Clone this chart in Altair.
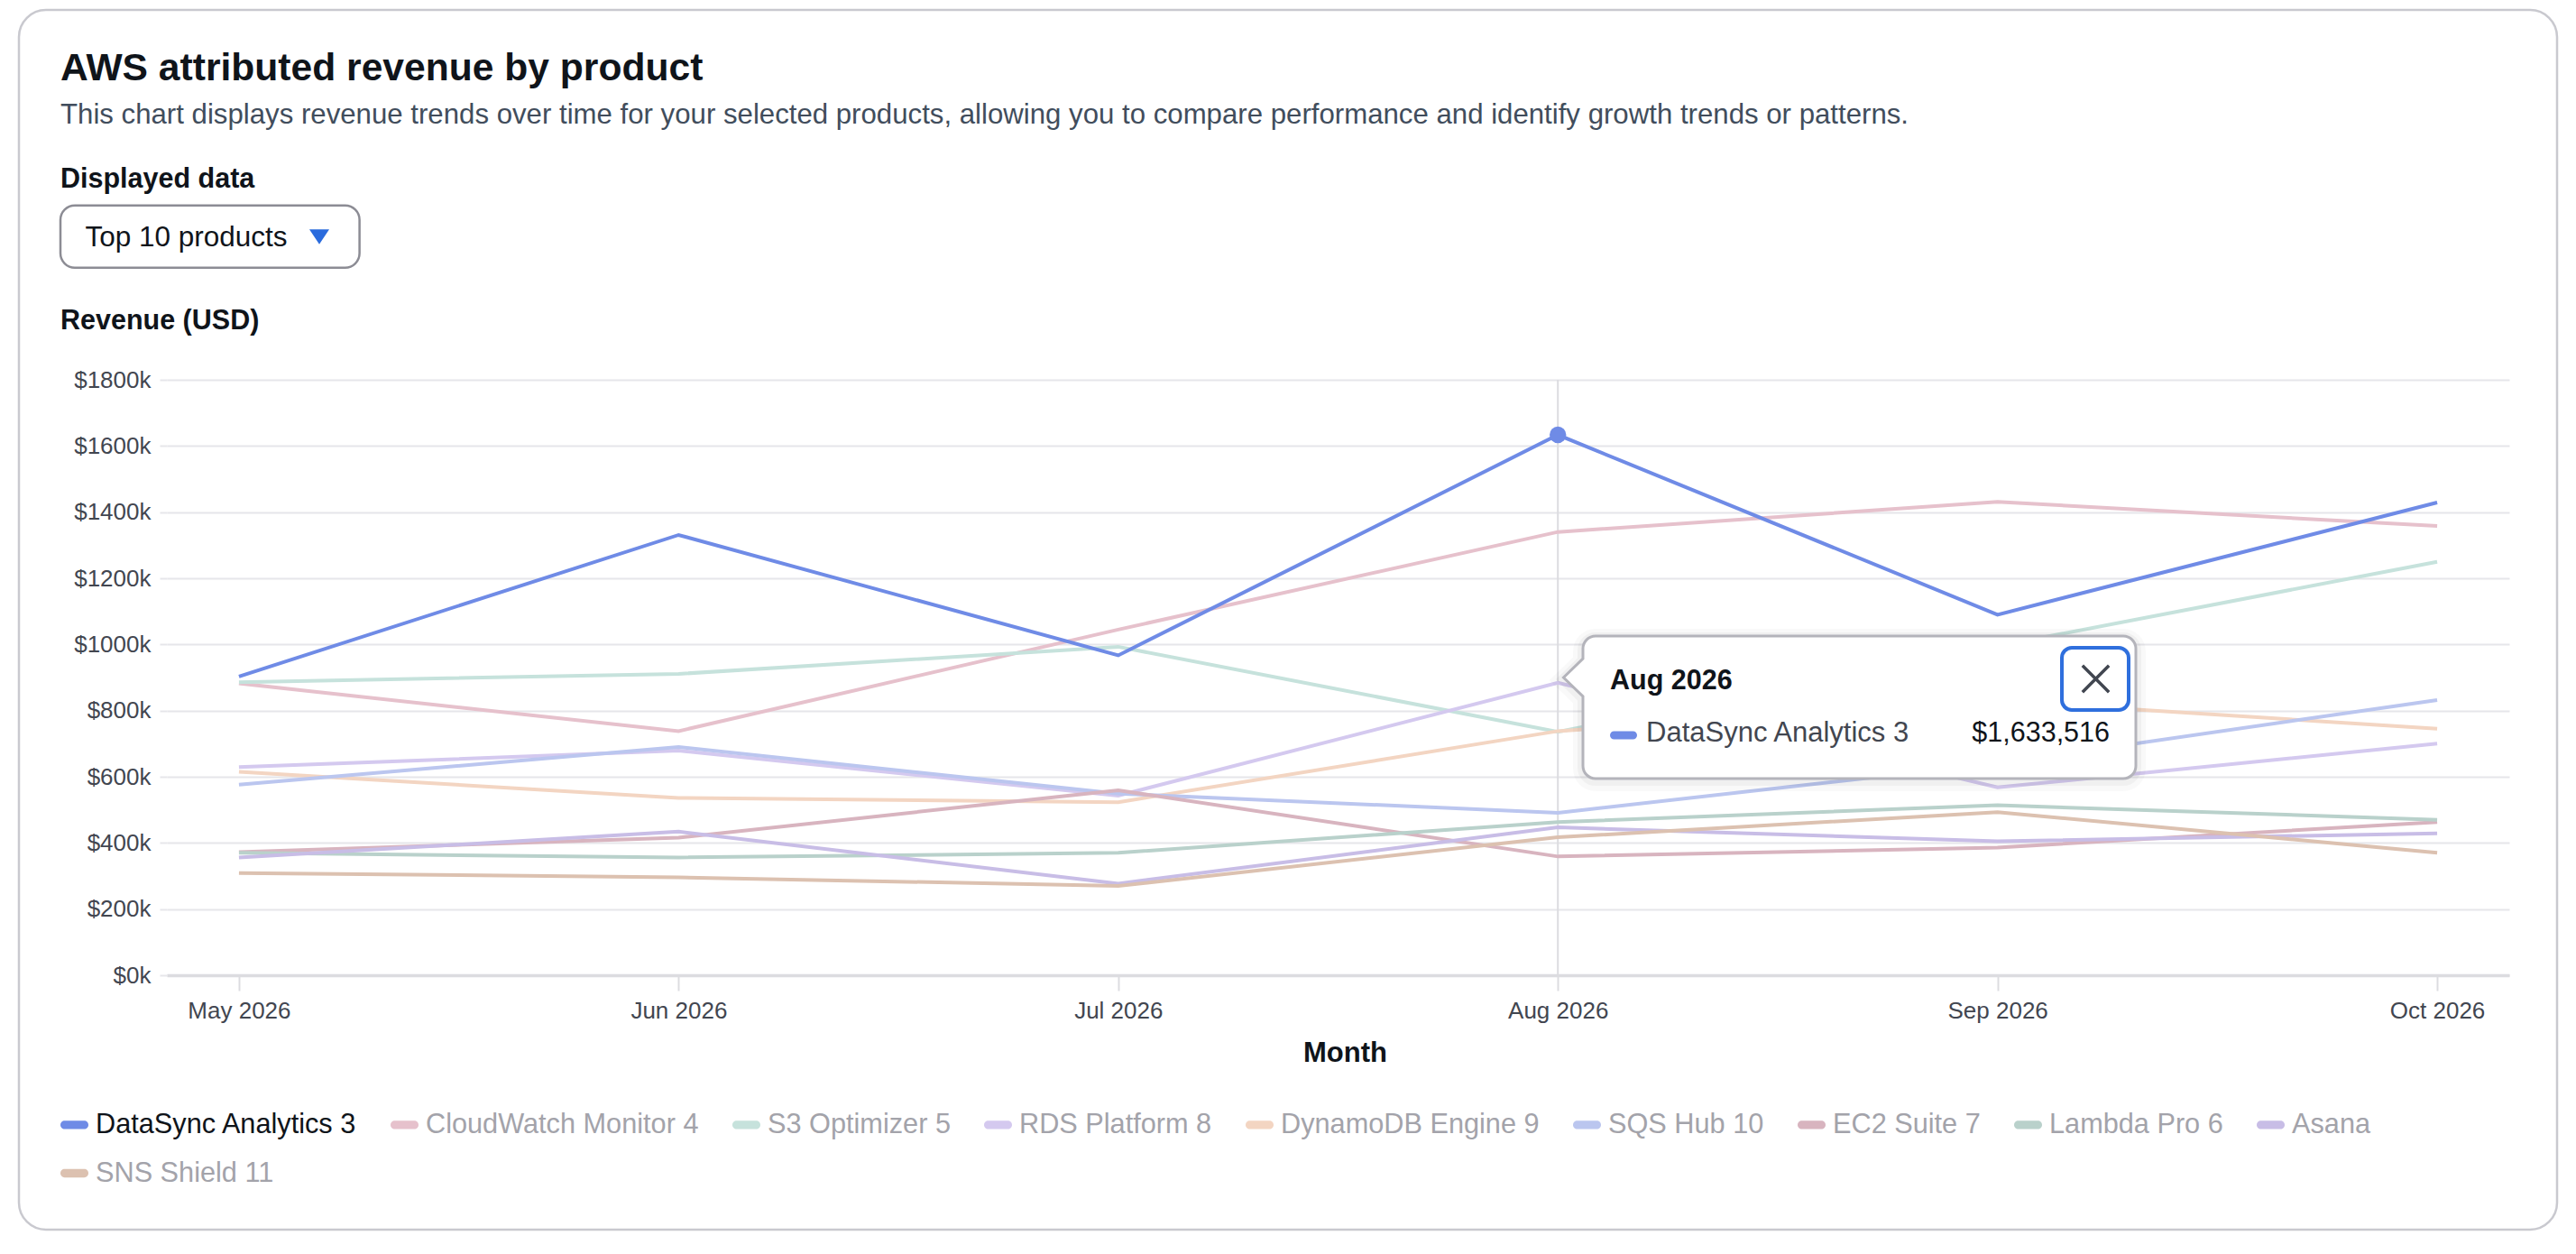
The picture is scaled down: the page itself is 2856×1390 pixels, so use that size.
import altair as alt
import pandas as pd

# ---------------- data ----------------
months = ["May 2026", "Jun 2026", "Jul 2026", "Aug 2026", "Sep 2026", "Oct 2026"]
products = [
    "DataSync Analytics 3", "CloudWatch Monitor 4", "S3 Optimizer 5", "RDS Platform 8",
    "DynamoDB Engine 9", "SQS Hub 10", "EC2 Suite 7", "Lambda Pro 6", "Asana", "SNS Shield 11",
]
colors = [
    "#6f8be6", "#e6c1cc", "#c6e2dc", "#d4c9ef", "#f3d5c2",
    "#bbc6ef", "#d8b4bf", "#b9d1cb", "#c8bde6", "#dcc1b0",
]
datasync_analytics_3 = [903000, 1331000, 967000, 1633516, 1090000, 1429000]
cloudwatch_monitor_4 = [882000, 738000, 1045000, 1340000, 1431000, 1358000]
s3_optimizer_5 = [886000, 911000, 993000, 736000, 995000, 1250000]
rds_platform_8 = [629000, 679000, 543000, 884000, 568000, 700000]
dynamodb_engine_9 = [615000, 536000, 523000, 738000, 830000, 745000]
sqs_hub_10 = [576000, 690000, 549000, 491000, 640000, 832000]
ec2_suite_7 = [372000, 416000, 559000, 359000, 386000, 463000]
lambda_pro_6 = [370000, 356000, 370000, 463000, 514000, 470000]
asana = [356000, 434000, 277000, 447000, 405000, 429000]
sns_shield_11 = [309000, 296000, 270000, 417000, 493000, 370000]
series_values = [
    datasync_analytics_3, cloudwatch_monitor_4, s3_optimizer_5, rds_platform_8,
    dynamodb_engine_9, sqs_hub_10, ec2_suite_7, lambda_pro_6, asana, sns_shield_11,
]
y_ticks = [0, 200000, 400000, 600000, 800000, 1000000, 1200000, 1400000, 1600000, 1800000]

selected_product = products[0]
selected_month = "Aug 2026"

title_text = "AWS attributed revenue by product"
subtitle_text = ("This chart displays revenue trends over time for your selected products, "
                 "allowing you to compare performance and identify growth trends or patterns.")
filter_label = "Displayed data"
filter_value = "Top 10 products"
y_title = "Revenue (USD)"
x_title = "Month"

rows = []
for p, vals in zip(products, series_values):
    for m, v in zip(months, vals):
        rows.append({"product": p, "month": m, "revenue": v})
df = pd.DataFrame(rows)

# ---------------- layout ----------------
FONT = "Liberation Sans"
W, H = 2597, 660
PAD = {"left": 185, "top": 421, "right": 74, "bottom": 309}
DARK = "#0f141a"
MID = "#424650"

PILL = "M-0.7 -0.3 L0.7 -0.3 A0.3 0.3 0 0 1 0.7 0.3 L-0.7 0.3 A0.3 0.3 0 0 1 -0.7 -0.3 Z"
XGLYPH = "M-1 -1 L1 1 M1 -1 L-1 1"
TRI = "M-1 -0.75 L1 -0.75 L0 0.75 Z"


def tooltip_path(hw, hh, r, tip_x, tip_y, base_top, base_bot, unit=100.0):
    f = lambda v: f"{v / unit:.4f}"
    return (
        f"M{f(-hw + r)} {f(-hh)} L{f(hw - r)} {f(-hh)} "
        f"A{f(r)} {f(r)} 0 0 1 {f(hw)} {f(-hh + r)} L{f(hw)} {f(hh - r)} "
        f"A{f(r)} {f(r)} 0 0 1 {f(hw - r)} {f(hh)} L{f(-hw + r)} {f(hh)} "
        f"A{f(r)} {f(r)} 0 0 1 {f(-hw)} {f(hh - r)} L{f(-hw)} {f(base_bot)} "
        f"L{f(tip_x)} {f(tip_y)} L{f(-hw)} {f(base_top)} L{f(-hw)} {f(-hh + r)} "
        f"A{f(r)} {f(r)} 0 0 1 {f(-hw + r)} {f(-hh)} Z"
    )


TIP_PATH = tooltip_path(306.5, 79, 14, -328, -33, -54, -12)

one = alt.Data(values=[{"k": 0}])

x_enc = alt.X(
    "month:N", sort=months,
    scale=alt.Scale(type="point", padding=0.164),
    axis=alt.Axis(
        title=x_title, labelAngle=0, labelFontSize=26, labelColor=MID, labelFont=FONT,
        labelPadding=9, tickSize=17, tickWidth=2, tickColor="#dcdce0",
        domainColor="#dcdce0", domainWidth=3.5, grid=False,
        titleFontSize=31, titleFont=FONT, titleFontWeight="bold", titleColor=DARK,
        titleBaseline="alphabetic", titleY=95, titleX=1306, titleAlign="center",
    ),
)
y_enc = alt.Y(
    "revenue:Q",
    scale=alt.Scale(domain=[0, 1800000], nice=False, zero=True),
    axis=alt.Axis(
        title=None, values=y_ticks,
        labelExpr="'$' + format(datum.value / 1000, 'd') + 'k'",
        labelFontSize=26, labelColor=MID, labelFont=FONT, labelPadding=10,
        tickSize=8, tickWidth=2, tickColor="#e6e6ea",
        grid=True, gridColor="#e6e6ea", gridWidth=2, domain=False,
    ),
)
color_scale = alt.Scale(domain=products, range=colors)

base = alt.Chart(df)

# card frame
card = alt.Chart(one).mark_rect(
    fill="transparent", stroke="#c9c9cf", strokeWidth=2.5, cornerRadius=30
).encode(x=alt.value(-164), x2=alt.value(2650), y=alt.value(-410), y2=alt.value(942))


def label(text, x, y, size, weight="normal", color=DARK, align="left"):
    return alt.Chart(one).mark_text(
        text=text, font=FONT, fontSize=size, fontWeight=weight, color=color,
        align=align, baseline="alphabetic",
    ).encode(x=alt.value(x), y=alt.value(y))


title = label(title_text, -118, -332, 42.6, "bold")
subtitle = label(subtitle_text, -118, -284, 31.2, "normal", "#414d5c")
flabel = label(filter_label, -118, -213, 30.5, "bold")
dropdown = alt.Chart(one).mark_rect(
    fill="white", stroke="#8c8c94", strokeWidth=2.5, cornerRadius=16
).encode(x=alt.value(-118), x2=alt.value(213.6), y=alt.value(-193.3), y2=alt.value(-124.3))
dtext = label(filter_value, -90.6, -148, 31.5, "normal", DARK)
dtri = alt.Chart(one).mark_point(
    shape=TRI, size=484, filled=True, fill="#2a6bdd", stroke=None, opacity=1
).encode(x=alt.value(169), y=alt.value(-158.5))
ylabel = label(y_title, -118, -56, 30.5, "bold")

sel_filter = (alt.datum.product == selected_product) & (alt.datum.month == selected_month)

legend_layer = base.mark_point(filled=True, opacity=0).encode(
    x=x_enc, y=y_enc,
    color=alt.Color(
        "product:N", scale=color_scale,
        legend=alt.Legend(
            title=None, orient="none", legendX=-118, legendY=810, direction="horizontal",
            columns=9, symbolType=PILL, symbolSize=961, symbolStrokeWidth=0, symbolOpacity=1,
            labelFont=FONT, labelFontSize=30.7, labelLimit=0, labelOffset=8,
            labelColor=alt.ExprRef(expr=f"datum.value == '{selected_product}' ? '{DARK}' : '#a3a3aa'"),
            columnPadding=37, rowPadding=22,
        ),
    ),
)

rule = base.transform_filter(sel_filter).mark_rule(color="#dcdce0", strokeWidth=2).encode(
    x=x_enc, y=alt.value(0), y2=alt.value(H)
)

faded = base.transform_filter(alt.datum.product != selected_product).mark_line(
    strokeWidth=4
).encode(x=x_enc, y=y_enc, color=alt.Color("product:N", scale=color_scale, legend=None))

main = base.transform_filter(alt.datum.product == selected_product).mark_line(
    strokeWidth=4
).encode(x=x_enc, y=y_enc, color=alt.Color("product:N", scale=color_scale, legend=None))

dot = base.transform_filter(sel_filter).mark_point(filled=True, size=340, opacity=1).encode(
    x=x_enc, y=y_enc, color=alt.Color("product:N", scale=color_scale, legend=None)
)

# tooltip
shadow1 = alt.Chart(one).mark_point(
    shape=TIP_PATH, size=40000, filled=False, stroke="#000000", strokeWidth=22,
    strokeOpacity=0.025, opacity=1
).encode(x=alt.value(1876.5), y=alt.value(366))
shadow2 = alt.Chart(one).mark_point(
    shape=TIP_PATH, size=40000, filled=False, stroke="#000000", strokeWidth=12,
    strokeOpacity=0.035, opacity=1
).encode(x=alt.value(1876.5), y=alt.value(365))
tipbox = alt.Chart(one).mark_point(
    shape=TIP_PATH, size=40000, filled=True, fill="white", stroke="#b4b4bb",
    strokeWidth=3, opacity=1
).encode(x=alt.value(1876.5), y=alt.value(363))
closebtn = alt.Chart(one).mark_rect(
    fill="white", stroke="#2f6fdd", strokeWidth=4, cornerRadius=11
).encode(x=alt.value(2101), x2=alt.value(2175), y=alt.value(297), y2=alt.value(366))
xglyph = alt.Chart(one).mark_point(
    shape=XGLYPH, size=860, filled=False, stroke="#414650", strokeWidth=3.5, opacity=1
).encode(x=alt.value(2138.5), y=alt.value(331.5))

sel = base.transform_filter(sel_filter)
tip_title = sel.mark_text(
    font=FONT, fontSize=30.5, fontWeight="bold", color=DARK, align="left", baseline="alphabetic"
).encode(text="month:N", x=alt.value(1600), y=alt.value(343))
tip_pill = sel.mark_point(shape=PILL, size=900, filled=True, opacity=1, strokeWidth=0).encode(
    x=alt.value(1615), y=alt.value(394),
    color=alt.Color("product:N", scale=color_scale, legend=None),
)
tip_name = sel.mark_text(
    font=FONT, fontSize=31, color=MID, align="left", baseline="alphabetic"
).encode(text="product:N", x=alt.value(1640), y=alt.value(401))
tip_value = sel.mark_text(
    font=FONT, fontSize=30.5, color=DARK, align="right", baseline="alphabetic"
).encode(text=alt.Text("revenue:Q", format="$,d"), x=alt.value(2154), y=alt.value(401))

chart = alt.layer(
    card, title, subtitle, flabel, dropdown, dtext, dtri, ylabel,
    legend_layer, rule, faded, main, dot,
    shadow1, shadow2, tipbox, closebtn, xglyph, tip_title, tip_pill, tip_name, tip_value,
).properties(
    width=W, height=H,
    autosize=alt.AutoSizeParams(type="none"),
    padding=PAD,
).configure(background="white", font=FONT).configure_view(stroke=None)

chart.save("out.html", embed_options={"renderer": "svg", "actions": False})
